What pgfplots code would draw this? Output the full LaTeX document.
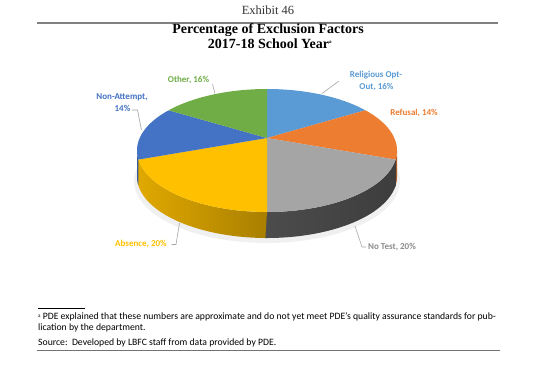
\documentclass[border=0pt]{standalone}
\usepackage{pgfplots}
\pgfplotsset{compat=1.18}
\usepackage{fontspec}
\setmainfont{Liberation Serif}
\newfontfamily\carlito{Carlito}
\definecolor{cRel}{HTML}{5B9BD5}
\definecolor{cRef}{HTML}{ED7D31}
\definecolor{cNoT}{HTML}{A5A5A5}
\definecolor{cAbs}{HTML}{FFC000}
\definecolor{cNon}{HTML}{4472C4}
\definecolor{cOth}{HTML}{70AD47}
\definecolor{lead}{HTML}{A6A6A6}
% shares (percent), clockwise from 12 o'clock
\pgfmathsetmacro\thA{90}
\pgfmathsetmacro\thB{\thA-3.6*16}% Religious Opt-Out
\pgfmathsetmacro\thC{\thB-3.6*14}% Refusal
\pgfmathsetmacro\thD{\thC-3.6*20}% No Test
\pgfmathsetmacro\thE{\thD-3.6*20}% Absence
\pgfmathsetmacro\thF{\thE-3.6*14}% Non-Attempt
\pgfmathsetmacro\thG{\thF-3.6*16}% Other
% perspective of the tilted pie
\pgfmathsetmacro\tA{\thA+10*cos(\thA)}
\pgfmathsetmacro\tB{\thB+10*cos(\thB)}
\pgfmathsetmacro\tC{\thC+10*cos(\thC)}
\pgfmathsetmacro\tD{\thD+10*cos(\thD)}
\pgfmathsetmacro\tE{\thE+10*cos(\thE)}
\pgfmathsetmacro\tF{\thF+10*cos(\thF)}
\pgfmathsetmacro\tG{\thG+10*cos(\thG)}
\newcommand\pieslice[3]{%
  \addplot[fill=#1, draw=none, domain=#2:#3, samples=60]
    ({267+130*cos(x)},{150.5-61.5*sin(x)}) -- (267,138) -- cycle;}
\newcommand\pieside[4]{%
  \addplot[draw=none, left color=#1, right color=#2, domain=0:2, samples=241]
    ({267+130*cos(#3+(#4-(#3))*(1-abs(1-x)))},
     {150.5-61.5*sin(#3+(#4-(#3))*(1-abs(1-x)))+26*(x>1)}) -- cycle;}
\begin{document}
\begin{tikzpicture}
\begin{axis}[width=540bp, height=367bp, scale only axis,
  xmin=0, xmax=540, ymin=0, ymax=367, y dir=reverse,
  hide axis, clip=false]
\fill[white] (0,0) rectangle (540,367);
% header
\node[text=black!80, font=\fontsize{12.5bp}{14bp}\selectfont] at (268,10) {Exhibit 46};
\draw[black!50, line width=1.3bp] (37,23) -- (498,23);
\node[font=\bfseries\fontsize{14bp}{16bp}\selectfont] at (268,30.5) {Percentage of Exclusion Factors};
\node[font=\bfseries\fontsize{14bp}{16bp}\selectfont] at (270,43.5) {2017-18 School Year\textsuperscript{\fontsize{5bp}{6bp}\selectfont a}};
% shadow
\addplot[fill=black, opacity=0.06, draw=none, domain=0:360, samples=90]
  ({267+133*cos(x)},{181-62*sin(x)}) -- cycle;
% sides
\pieside{cRef!80!black}{cRef!70!black}{\tC-3}{0}
\pieside{black!70}{black!76}{\tD-3}{\tC}
\pieside{cAbs!88!black}{cAbs!66!black}{\tE-3}{\tD}
\pieside{cNon!80!black}{cNon!75!black}{-180}{\tE}
% top faces
\pieslice{cRel}{\tB}{\tA}
\pieslice{cRef}{\tC}{\tB}
\pieslice{cNoT}{\tD}{\tC}
\pieslice{cAbs}{\tE}{\tD}
\pieslice{cNon}{\tF}{\tE}
\pieslice{cOth}{\tG}{\tF}
% leader lines
\draw[lead, line width=0.6bp] (322,93.5) -- (339,81);
\draw[lead, line width=0.6bp] (355,226) -- (362,247) -- (366,247);
\draw[lead, line width=0.6bp] (179.5,223) -- (176,244.5) -- (171.5,244.5);
\draw[lead, line width=0.6bp] (141.5,130) -- (137.5,110) -- (132,110);
\draw[lead, line width=0.6bp] (215,93.5) -- (212.5,84);
% data labels
\begin{scope}[every node/.style={font=\carlito\bfseries\fontsize{9bp}{10bp}\selectfont, inner sep=0pt}]
\node[text=cRel] at (376,75) {Religious Opt-};
\node[text=cRel] at (376.5,87) {Out, 16\%};
\node[text=cRef] at (414,113) {Refusal, 14\%};
\node[text=black!45] at (392,247) {No Test, 20\%};
\node[text=cAbs] at (141,244) {Absence, 20\%};
\node[text=cNon] at (122,97) {Non-Attempt,};
\node[text=cNon] at (122.5,108.5) {14\%};
\node[text=cOth] at (188.5,80) {Other, 16\%};
\end{scope}
% footnote
\draw[black, line width=0.5bp] (38,308) -- (85,308);
\begin{scope}[every node/.style={anchor=west, inner sep=0pt, font=\carlito\fontsize{9.7bp}{11bp}\selectfont}]
\node at (38,317) {\raisebox{0.5ex}{\fontsize{5bp}{6bp}\selectfont a} PDE explained that these numbers are approximate and do not yet meet PDE’s quality assurance standards for pub-};
\node at (38,327.5) {lication by the department.};
\node at (38,343) {Source:\ \ Developed by LBFC staff from data provided by PDE.};
\end{scope}
\draw[black!55, line width=1.3bp] (37,350.5) -- (500,350.5);
\end{axis}
\end{tikzpicture}
\end{document}
